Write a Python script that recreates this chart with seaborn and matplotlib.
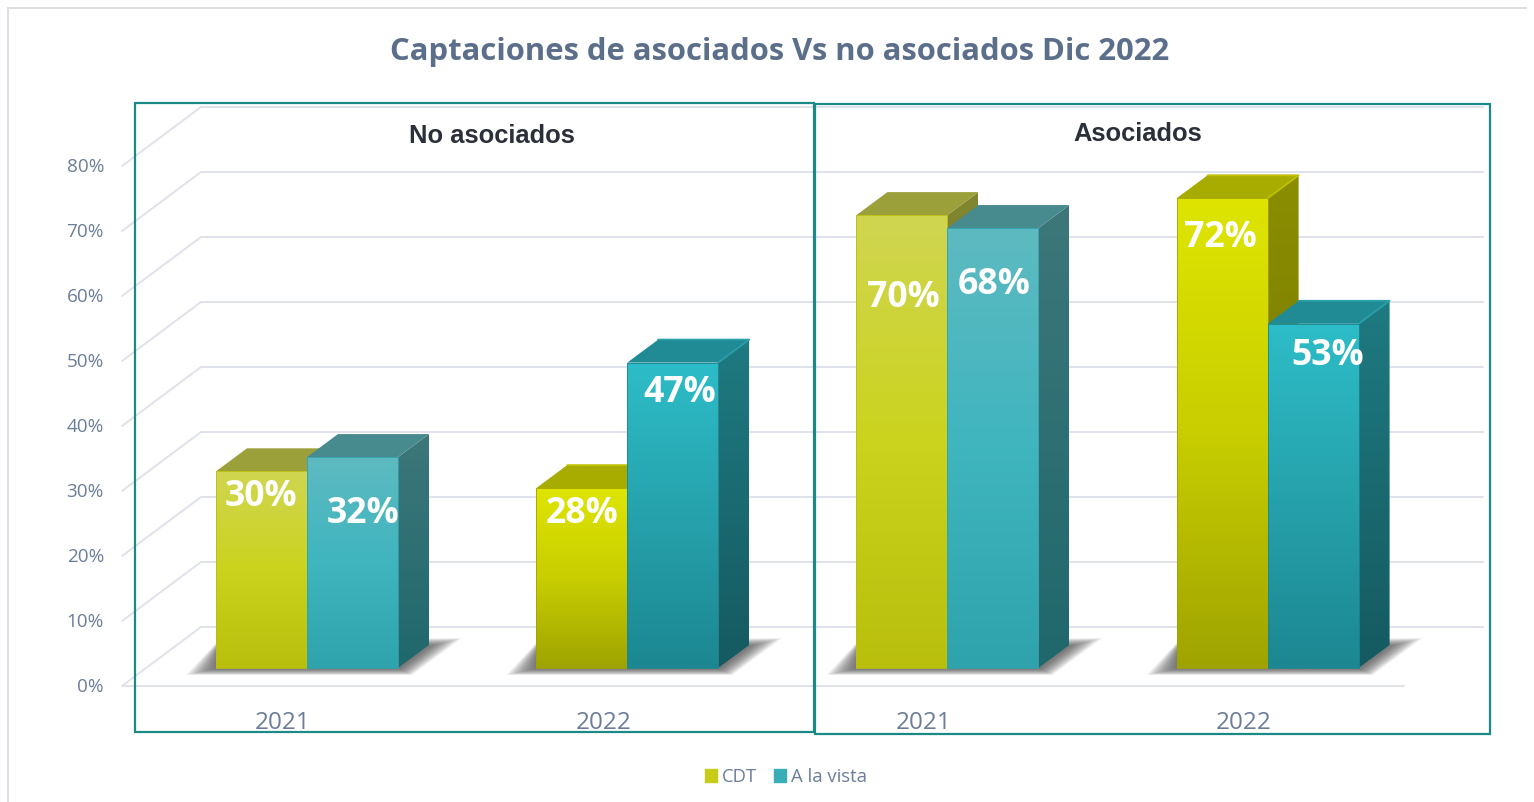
#!/usr/bin/env python3
# -*- coding: utf-8 -*-

import numpy as np
import pandas as pd
import matplotlib
matplotlib.use("Agg")
import matplotlib.pyplot as plt
import seaborn as sns
from matplotlib.colors import LinearSegmentedColormap
from matplotlib.patches import Patch, Polygon

# ---------------------------
# Data
# ---------------------------
panels = ["No asociados", "No asociados", "Asociados", "Asociados"]
years = ["2021", "2022", "2021", "2022"]
cdt = [30.4, 27.8, 70.0, 72.6]
a_la_vista = [32.6, 47.2, 68.0, 53.2]
cdt_labels = ["30%", "28%", "70%", "72%"]
vista_labels = ["32%", "47%", "68%", "53%"]
y_ticks = [0, 10, 20, 30, 40, 50, 60, 70, 80]
series_names = ["CDT", "A la vista"]
title_text = "Captaciones de asociados Vs no asociados Dic 2022"

groups = [p + " " + y for p, y in zip(panels, years)]
df = pd.DataFrame({
    "grupo": groups * 2,
    "valor": cdt + a_la_vista,
    "serie": [series_names[0]] * 4 + [series_names[1]] * 4,
})

# ---------------------------
# Layout (pixels of the 1534x802 picture)
# ---------------------------
W, H = 1534, 802
PX_X = 320.2           # pixels per category
PX_Y = 6.47            # pixels per percent
X0, Y0 = 307, 668      # first category centre, bar base
DEPTH_X, DEPTH_Y = 31, 23

TEXT = "#6b7d99"
GRID = "#dfe2ea"
TEAL = "#1b8a86"

# colours: top of front, middle, base of front, top face, side top, side base
STYLE = {
    ("CDT", "2021"): ["#d0d650", "#cbd31e", "#b9bf0c", "#9ba03a", "#82862f", "#6d7020"],
    ("CDT", "2022"): ["#dfe500", "#c8ce00", "#9fa300", "#a8ab00", "#8b8e00", "#6f7100"],
    ("A la vista", "2021"): ["#5ebac1", "#3fb5be", "#2ea3ac", "#478b8f", "#3d777a", "#1f686c"],
    ("A la vista", "2022"): ["#2dbdc8", "#26a2ac", "#1c8791", "#208b95", "#1f7a81", "#155a60"],
}
# lighter rim on the 2022 caps
BEVEL = {"CDT": "#bfc200", "A la vista": "#2a9fa9"}
# label centre relative to bar top centre, pixels
CDT_OFFSETS = [(-1, -26), (0, -26), (1, -83), (-2, -40)]
VISTA_OFFSETS = [(10, -57), (7, -30), (1, -57), (15, -32)]

sns.set_theme(style="white")
plt.rcParams["font.family"] = ["Open Sans", "DejaVu Sans"]

fig = plt.figure(figsize=(W / 100, H / 100), dpi=100, facecolor="white")

# ---------------------------
# Background: frame, walls, grid, texts
# ---------------------------
bg = fig.add_axes([0, 0, 1, 1], zorder=0)
bg.set_xlim(0, W)
bg.set_ylim(H, 0)
bg.axis("off")

bg.plot([8, 8, 1526], [802, 8, 8], color="#dcdfe6", lw=1.5, solid_joinstyle="miter")

for v in y_ticks:
    yf = 686 - 6.5 * v
    bg.plot([122, 201, 1483], [yf, yf - 59, yf - 59], color=GRID, lw=1.4)
    bg.text(104, yf + 1, f"{v}%", ha="right", va="center", color=TEXT, fontsize=13.6)
bg.plot([122, 1404], [686, 686], color=GRID, lw=1.4)

bg.text(780, 52, title_text, ha="center", va="center", color="#5b6f8b",
        fontsize=22.3, fontweight="bold")
bg.text(492, 136, "No asociados", ha="center", va="center", color="#2b2f3a",
        fontsize=18.4, fontweight="bold", family="Liberation Sans")
bg.text(1138, 134, "Asociados", ha="center", va="center", color="#2b2f3a",
        fontsize=18.4, fontweight="bold", family="Liberation Sans")

bg.plot([135, 814, 814, 135, 135], [103, 103, 732, 732, 103], color=TEAL, lw=1.6,
        solid_joinstyle="miter")
bg.plot([815, 1490, 1490, 815, 815], [104, 104, 734, 734, 104], color=TEAL, lw=1.6,
        solid_joinstyle="miter")

# ---------------------------
# Bars
# ---------------------------
ax = fig.add_axes([0, 0, 1, 1], zorder=1)
ax.patch.set_alpha(0)
sns.barplot(
    data=df, x="grupo", y="valor", hue="serie", order=groups,
    hue_order=series_names, palette=["#cbd31e", "#3fb5be"],
    width=182 / PX_X, gap=0, saturation=1, legend=False, ax=ax,
)
xlim = (-X0 / PX_X, (W - X0) / PX_X)
ylim = (-(H - Y0) / PX_Y, Y0 / PX_Y)
dx, dy = DEPTH_X / PX_X, DEPTH_Y / PX_Y


def gradient(verts, colors, top, bottom, zorder):
    """Vertical gradient clipped to a polygon given in data coordinates."""
    cmap = LinearSegmentedColormap.from_list("g", colors)
    grad = np.linspace(0, 1, 256).reshape(-1, 1)
    xs = [p[0] for p in verts]
    im = ax.imshow(grad, cmap=cmap, aspect="auto", zorder=zorder,
                   extent=[min(xs), max(xs), bottom, top], origin="upper")
    clip = Polygon(verts, closed=True, transform=ax.transData, fc="none", ec="none")
    ax.add_patch(clip)
    im.set_clip_path(clip)


def shadow(x_left, x_right):
    """Soft floor shadow: stacked translucent polygons shrinking to the bars."""
    steps = 18
    for i in range(steps):
        t = i / (steps - 1)
        pts = [
            (x_left - (30 - 28 * t) / PX_X, -(7 - 6 * t) / PX_Y),
            (x_left + 2 / PX_X, (27 - 6 * t) / PX_Y),
            (x_right + (64 - 32 * t) / PX_X, (30 - 8 * t) / PX_Y),
            (x_right + (14 - 12 * t) / PX_X, -(7 - 6 * t) / PX_Y),
        ]
        ax.add_patch(Polygon(pts, closed=True, fc="#404040", ec="none",
                             alpha=0.06, zorder=1))


for left, right in zip(ax.containers[0].patches, ax.containers[1].patches):
    shadow(left.get_x(), right.get_x() + right.get_width())

z = 2
for name, container, labels, offsets in [
    (series_names[0], ax.containers[0], cdt_labels, CDT_OFFSETS),
    (series_names[1], ax.containers[1], vista_labels, VISTA_OFFSETS),
]:
    for bar, year, label, off in zip(container.patches, years, labels, offsets):
        front_top, front_mid, front_base, top_face, side_top, side_base = STYLE[(name, year)]
        x1, x2 = bar.get_x(), bar.get_x() + bar.get_width()
        h = bar.get_height()

        side = [(x2, 0), (x2 + dx, dy), (x2 + dx, h + dy), (x2, h)]
        gradient(side, [side_top, side_base], h + dy, 0, z)
        cap = [(x1, h), (x2, h), (x2 + dx, h + dy), (x1 + dx, h + dy)]
        ax.add_patch(Polygon(cap, closed=True, fc=top_face, ec="none", zorder=z))
        if year == "2022":
            ax.plot([x2, x2 + dx, x1 + dx], [h, h + dy, h + dy], color=BEVEL[name],
                    lw=1.3, zorder=z, solid_capstyle="round")
        front = [(x1, 0), (x2, 0), (x2, h), (x1, h)]
        gradient(front, [front_top, front_mid, front_base], h, 0, z + 0.1)

        bar.set_zorder(z + 0.2)
        bar.set_facecolor("none")
        bar.set_edgecolor(front_base)
        bar.set_linewidth(0.6)

        ax.annotate(label, xy=(x1 + bar.get_width() / 2, h), xytext=off,
                    textcoords="offset pixels", ha="center", va="center",
                    color="white", fontsize=25.7, fontweight="bold", zorder=20)
        z += 1

for i, year in enumerate(years):
    ax.text(i - 24 / PX_X, -55 / PX_Y, year, ha="center", va="center",
            color=TEXT, fontsize=17.5)

ax.set_xlim(xlim)
ax.set_ylim(ylim)
ax.axis("off")

handles = [Patch(color="#c6cc18"), Patch(color="#3aaeb8")]
fig.legend(
    handles, series_names, loc="center", bbox_to_anchor=(786 / W, 1 - 777 / H),
    ncol=2, frameon=False, fontsize=13.3, labelcolor=TEXT, handlelength=0.65,
    handleheight=0.65, handletextpad=0.27, columnspacing=0.92, borderpad=0,
)

fig.savefig("out.png", dpi=100, facecolor="white")
plt.close(fig)
